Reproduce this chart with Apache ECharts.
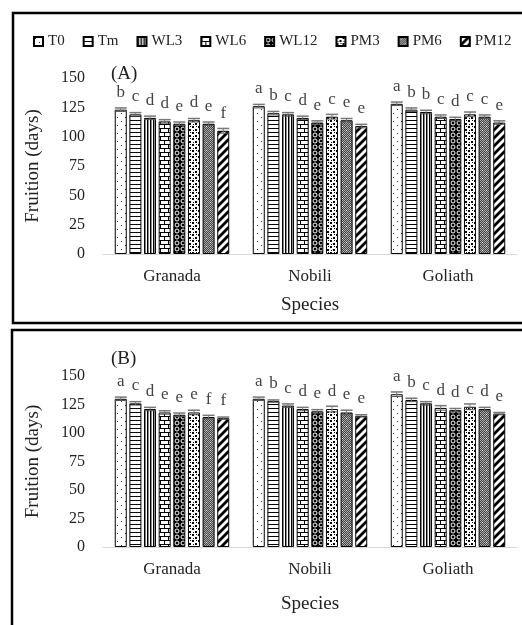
<!DOCTYPE html>
<html>
<head>
<meta charset="utf-8">
<script src="https://cdn.jsdelivr.net/npm/echarts@6/dist/echarts.min.js"></script>
<style>html,body{margin:0;padding:0;background:#fff;}#c{width:522px;height:625px;}</style>
</head>
<body>
<div id="c"></div>
<script>
// ---------- data ----------
const categories = ['Granada', 'Nobili', 'Goliath'];
const seriesNames = ['T0', 'Tm', 'WL3', 'WL6', 'WL12', 'PM3', 'PM6', 'PM12'];
const yTicks = [0, 25, 50, 75, 100, 125, 150];

// Panel (A) values per treatment, [Granada, Nobili, Goliath]
const valT0_A   = [123, 126, 128];
const valTm_A   = [119, 120, 123];
const valWL3_A  = [116, 119, 121];
const valWL6_A  = [113, 116, 117];
const valWL12_A = [111, 112, 115];
const valPM3_A  = [114, 117, 119];
const valPM6_A  = [111, 114, 117];
const valPM12_A = [105, 109, 112];

// Panel (B)
const valT0_B   = [130, 130, 134];
const valTm_B   = [126, 128, 129];
const valWL3_B  = [121, 124, 126];
const valWL6_B  = [118, 121, 122];
const valWL12_B = [116, 119, 120];
const valPM3_B  = [118, 121, 123];
const valPM6_B  = [114, 118, 121];
const valPM12_B = [113, 115, 117];

// error (±) estimates
const errA = [[1.5,1.5,1.5],[1.5,1.5,1.5],[1.5,1.5,1.5],[1.5,1.5,1.5],[1.5,1.5,1.5],[1.5,2,2],[1.5,1.5,1.5],[2,1.5,1.5]];
const errB = [[1.5,1.5,2],[1.5,1,1.5],[1.5,1.5,1.5],[1.5,1.5,2],[1.5,1.5,1.5],[2,2.5,2.5],[1.5,2,1.5],[1,1,1]];

// significance letters
const lettersA = [['b','a','a'],['c','b','b'],['d','c','b'],['d','d','c'],['e','e','d'],['d','c','c'],['e','e','c'],['f','e','e']];
const lettersB = [['a','a','a'],['c','b','b'],['d','c','c'],['e','d','d'],['e','e','d'],['e','d','c'],['f','e','d'],['f','e','e']];

const valuesA = [valT0_A, valTm_A, valWL3_A, valWL6_A, valWL12_A, valPM3_A, valPM6_A, valPM12_A];
const valuesB = [valT0_B, valTm_B, valWL3_B, valWL6_B, valWL12_B, valPM3_B, valPM6_B, valPM12_B];

// ---------- patterns ----------
function pat(w, h, draw) {
  const c = document.createElement('canvas');
  c.width = w; c.height = h;
  const g = c.getContext('2d');
  g.fillStyle = '#fff'; g.fillRect(0, 0, w, h);
  draw(g, w, h);
  return { image: c, repeat: 'repeat' };
}
const patterns = [
  pat(8, 8, g => { g.fillStyle = '#333'; g.fillRect(1, 1, 1, 1); g.fillRect(5, 5, 1, 1); }),
  pat(4, 4, g => { g.fillStyle = '#000'; g.fillRect(0, 0, 4, 1); }),
  pat(3, 3, g => { g.fillStyle = '#000'; g.fillRect(0, 0, 1, 3); g.fillStyle = '#888'; g.fillRect(1, 0, 1, 3); }),
  pat(8, 8, g => { g.fillStyle = '#000'; g.fillRect(0, 0, 8, 1); g.fillRect(0, 4, 8, 1); g.fillRect(0, 0, 1, 4); g.fillRect(4, 4, 1, 4); }),
  pat(6, 6, g => { g.fillStyle = '#000'; g.fillRect(0, 0, 6, 6); g.strokeStyle = '#fff'; g.lineWidth = 1; g.beginPath(); g.arc(3, 3, 2, 0, Math.PI * 2); g.stroke(); }),
  pat(6, 6, g => { g.fillStyle = '#000'; g.fillRect(0, 0, 2, 2); g.fillRect(3, 3, 2, 2); g.fillRect(4, 0, 1, 1); g.fillRect(1, 4, 1, 1); }),
  pat(8, 8, g => {
    for (let y = 0; y < 8; y++) for (let x = 0; x < 8; x++) { g.fillStyle = ((x + y) % 2) ? '#444' : '#aaa'; g.fillRect(x, y, 1, 1); }
    g.fillStyle = '#fff'; g.fillRect(2, 2, 1, 1); g.fillRect(6, 6, 1, 1);
  }),
  pat(8, 8, g => {
    g.strokeStyle = '#000'; g.lineWidth = 2.8; g.beginPath();
    g.moveTo(-2, 10); g.lineTo(10, -2);
    g.moveTo(-6, 6); g.lineTo(6, -6);
    g.moveTo(2, 14); g.lineTo(14, 2);
    g.stroke();
  })
];

// ---------- layout constants ----------
const FONT = "'Liberation Serif', 'Times New Roman', serif";
const BW = 12, GAPR = 0.22, GAP = BW * GAPR;

function barSeries(values, letters, gi) {
  return values.map((vals, si) => ({
    name: seriesNames[si],
    type: 'bar',
    xAxisIndex: gi, yAxisIndex: gi,
    data: vals,
    barWidth: BW,
    barGap: (GAPR * 100) + '%',
    itemStyle: { color: patterns[si], borderColor: '#000', borderWidth: 1 },
    label: {
      show: true, position: 'top', distance: 9,
      formatter: p => letters[si][p.dataIndex],
      color: '#444', fontFamily: FONT, fontSize: 17
    },
    emphasis: { disabled: true }
  }));
}
function errSeries(values, errs, gi) {
  const data = [];
  values.forEach((vals, si) => vals.forEach((v, ci) => data.push([ci, v, errs[si][ci], si])));
  return {
    type: 'custom', name: 'err' + gi,
    xAxisIndex: gi, yAxisIndex: gi, z: 5,
    encode: { x: 0, y: 1 },
    data: data,
    renderItem: (params, api) => {
      const ci = api.value(0), v = api.value(1), e = api.value(2), si = api.value(3);
      const base = api.coord([ci, v]);
      const x = base[0] + (si - 3.5) * (BW + GAP);
      const yt = api.coord([ci, v + e])[1];
      const yb = api.coord([ci, v - e])[1];
      return {
        type: 'group', children: [
          { type: 'line', shape: { x1: x, y1: yt, x2: x, y2: yb }, style: { stroke: '#777', lineWidth: 1 } },
          { type: 'line', shape: { x1: x - BW / 2, y1: yt, x2: x + BW / 2, y2: yt }, style: { stroke: '#777', lineWidth: 1.5 } },
          { type: 'line', shape: { x1: x - BW / 2, y1: yb, x2: x + BW / 2, y2: yb }, style: { stroke: '#555', lineWidth: 1 } }
        ]
      };
    }
  };
}

function xAxis(gi, nameGap) {
  return {
    type: 'category', gridIndex: gi, data: categories,
    axisLine: { lineStyle: { color: '#d9d9d9', width: 1 } },
    axisTick: { show: false },
    axisLabel: { color: '#222', fontFamily: FONT, fontSize: 17, margin: 14 },
    name: 'Species', nameLocation: 'middle', nameGap: nameGap,
    nameTextStyle: { color: '#222', fontFamily: FONT, fontSize: 19 }
  };
}
function yAxis(gi) {
  return {
    type: 'value', gridIndex: gi, min: yTicks[0], max: yTicks[yTicks.length - 1], interval: yTicks[1] - yTicks[0],
    axisLine: { show: false }, axisTick: { show: false }, splitLine: { show: false },
    axisLabel: { color: '#222', fontFamily: FONT, fontSize: 16, margin: 18 },
    name: 'Fruition (days)', nameLocation: 'middle', nameGap: 60,
    nameTextStyle: { color: '#222', fontFamily: FONT, fontSize: 19 }
  };
}

const chart = echarts.init(document.getElementById('c'), null, { renderer: 'canvas' });
chart.setOption({
  animation: false,
  backgroundColor: '#fff',
  title: [
    { text: '(A)', left: 106, top: 60, textStyle: { fontFamily: FONT, fontSize: 19, fontWeight: 'normal', color: '#222' } },
    { text: '(B)', left: 106, top: 345, textStyle: { fontFamily: FONT, fontSize: 19, fontWeight: 'normal', color: '#222' } }
  ],
  legend: {
    data: seriesNames, left: 33, top: 34, width: 500, padding: 0,
    icon: 'rect', itemWidth: 9, itemHeight: 9, itemGap: 18,
    textStyle: { fontFamily: FONT, fontSize: 15, color: '#222' },
    selectedMode: false
  },
  grid: [
    { left: 103, right: 5, top: 78, height: 176 },
    { left: 103, right: 5, top: 376, height: 171 }
  ],
  xAxis: [xAxis(0, 42), xAxis(1, 48)],
  yAxis: [yAxis(0), yAxis(1)],
  graphic: [
    { type: 'rect', shape: { x: 13, y: 13, width: 530, height: 310 }, style: { fill: 'none', stroke: '#000', lineWidth: 2.5 }, z: 100 },
    { type: 'rect', shape: { x: 12, y: 330, width: 530, height: 320 }, style: { fill: 'none', stroke: '#000', lineWidth: 2.5 }, z: 100 }
  ],
  series: [].concat(
    barSeries(valuesA, lettersA, 0), [errSeries(valuesA, errA, 0)],
    barSeries(valuesB, lettersB, 1), [errSeries(valuesB, errB, 1)]
  )
});
</script>
</body>
</html>
